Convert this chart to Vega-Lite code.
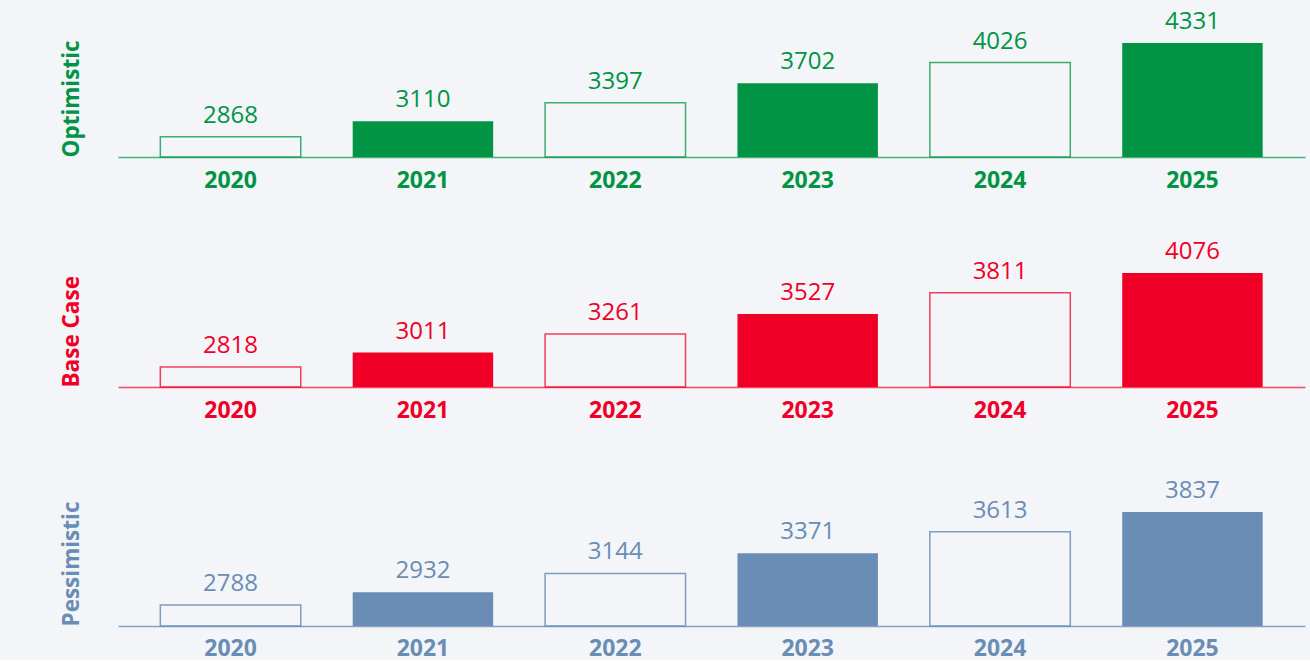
{
  "$schema": "https://vega.github.io/schema/vega-lite/v6.json",
  "background": "#f3f5f8",
  "padding": {"left": 60, "top": 0, "right": 5, "bottom": 0},
  "config": {"view": {"stroke": null}, "font": "Open Sans"},
  "bounds": "flush",
  "spacing": 0,
  "data": {"values": [
    {"scenario": "Optimistic", "year": 2020, "value": 2868},
    {"scenario": "Optimistic", "year": 2021, "value": 3110},
    {"scenario": "Optimistic", "year": 2022, "value": 3397},
    {"scenario": "Optimistic", "year": 2023, "value": 3702},
    {"scenario": "Optimistic", "year": 2024, "value": 4026},
    {"scenario": "Optimistic", "year": 2025, "value": 4331},
    {"scenario": "Base Case", "year": 2020, "value": 2818},
    {"scenario": "Base Case", "year": 2021, "value": 3011},
    {"scenario": "Base Case", "year": 2022, "value": 3261},
    {"scenario": "Base Case", "year": 2023, "value": 3527},
    {"scenario": "Base Case", "year": 2024, "value": 3811},
    {"scenario": "Base Case", "year": 2025, "value": 4076},
    {"scenario": "Pessimistic", "year": 2020, "value": 2788},
    {"scenario": "Pessimistic", "year": 2021, "value": 2932},
    {"scenario": "Pessimistic", "year": 2022, "value": 3144},
    {"scenario": "Pessimistic", "year": 2023, "value": 3371},
    {"scenario": "Pessimistic", "year": 2024, "value": 3613},
    {"scenario": "Pessimistic", "year": 2025, "value": 3837}
  ]},
  "vconcat": [
    {
      "width": 1187, "height": 157,
      "transform": [{"filter": "datum.scenario == 'Optimistic'"}],
      "encoding": {
        "x": {"field": "year", "type": "ordinal", "scale": {"paddingInner": 0.27, "paddingOuter": 0.22},
          "axis": {"title": null, "labelFontSize": 23, "labelFontWeight": "bold", "labelColor": "#009444", "ticks": false, "tickSize": 0, "labelBaseline": "alphabetic", "labelPadding": 30, "domainColor": "#009444", "domainOpacity": 0.7, "domainWidth": 1.5, "labelAngle": 0}},
        "y": {"field": "value", "type": "quantitative", "scale": {"domain": [2550, 5003], "nice": false, "zero": false},
          "axis": {"title": "Optimistic", "titleFontSize": 22.5, "titleFontWeight": "bold", "titleColor": "#009444", "titleAnchor": "start", "labels": false, "ticks": false, "domain": false, "grid": false, "titlePadding": 35}}
      },
      "layer": [
        {"mark": {"type": "bar"},
         "encoding": {
           "y2": {"datum": 2550},
           "fill": {"condition": {"test": "datum.year % 2 == 1", "value": "#009444"}, "value": "transparent"},
           "stroke": {"value": "#009444"},
           "strokeWidth": {"condition": {"test": "datum.year % 2 == 1", "value": 0}, "value": 1.5},
           "strokeOpacity": {"value": 0.75}
         }},
        {"mark": {"type": "text", "dy": -14, "baseline": "alphabetic", "fontSize": 24, "color": "#009444"},
         "encoding": {"text": {"field": "value", "type": "quantitative", "format": "d"}}}
      ]
    },
    {
      "width": 1187, "height": 230,
      "transform": [{"filter": "datum.scenario == 'Base Case'"}],
      "encoding": {
        "x": {"field": "year", "type": "ordinal", "scale": {"paddingInner": 0.27, "paddingOuter": 0.22},
          "axis": {"title": null, "labelFontSize": 23, "labelFontWeight": "bold", "labelColor": "#f00027", "ticks": false, "tickSize": 0, "labelBaseline": "alphabetic", "labelPadding": 30, "domainColor": "#f00027", "domainOpacity": 0.7, "domainWidth": 1.5, "labelAngle": 0}},
        "y": {"field": "value", "type": "quantitative", "scale": {"domain": [2550, 5629], "nice": false, "zero": false},
          "axis": {"title": "Base Case", "titleFontSize": 22.5, "titleFontWeight": "bold", "titleColor": "#f00027", "titleAnchor": "start", "labels": false, "ticks": false, "domain": false, "grid": false, "titlePadding": 35}}
      },
      "layer": [
        {"mark": {"type": "bar"},
         "encoding": {
           "y2": {"datum": 2550},
           "fill": {"condition": {"test": "datum.year % 2 == 1", "value": "#f00027"}, "value": "transparent"},
           "stroke": {"value": "#f00027"},
           "strokeWidth": {"condition": {"test": "datum.year % 2 == 1", "value": 0}, "value": 1.5},
           "strokeOpacity": {"value": 0.75}
         }},
        {"mark": {"type": "text", "dy": -14, "baseline": "alphabetic", "fontSize": 24, "color": "#f00027"},
         "encoding": {"text": {"field": "value", "type": "quantitative", "format": "d"}}}
      ]
    },
    {
      "width": 1187, "height": 239,
      "transform": [{"filter": "datum.scenario == 'Pessimistic'"}],
      "encoding": {
        "x": {"field": "year", "type": "ordinal", "scale": {"paddingInner": 0.27, "paddingOuter": 0.22},
          "axis": {"title": null, "labelFontSize": 23, "labelFontWeight": "bold", "labelColor": "#6a8db5", "ticks": false, "tickSize": 0, "labelBaseline": "alphabetic", "labelPadding": 29, "domainColor": "#6a8db5", "domainOpacity": 0.8, "domainWidth": 1.5, "labelAngle": 0}},
        "y": {"field": "value", "type": "quantitative", "scale": {"domain": [2550, 5248], "nice": false, "zero": false},
          "axis": {"title": "Pessimistic", "titleFontSize": 22.5, "titleFontWeight": "bold", "titleColor": "#6a8db5", "titleAnchor": "start", "labels": false, "ticks": false, "domain": false, "grid": false, "titlePadding": 35}}
      },
      "layer": [
        {"mark": {"type": "bar"},
         "encoding": {
           "y2": {"datum": 2550},
           "fill": {"condition": {"test": "datum.year % 2 == 1", "value": "#6a8db5"}, "value": "transparent"},
           "stroke": {"value": "#6a8db5"},
           "strokeWidth": {"condition": {"test": "datum.year % 2 == 1", "value": 0}, "value": 1.5},
           "strokeOpacity": {"value": 0.85}
         }},
        {"mark": {"type": "text", "dy": -14, "baseline": "alphabetic", "fontSize": 24, "color": "#6a8db5"},
         "encoding": {"text": {"field": "value", "type": "quantitative", "format": "d"}}}
      ]
    }
  ]
}
